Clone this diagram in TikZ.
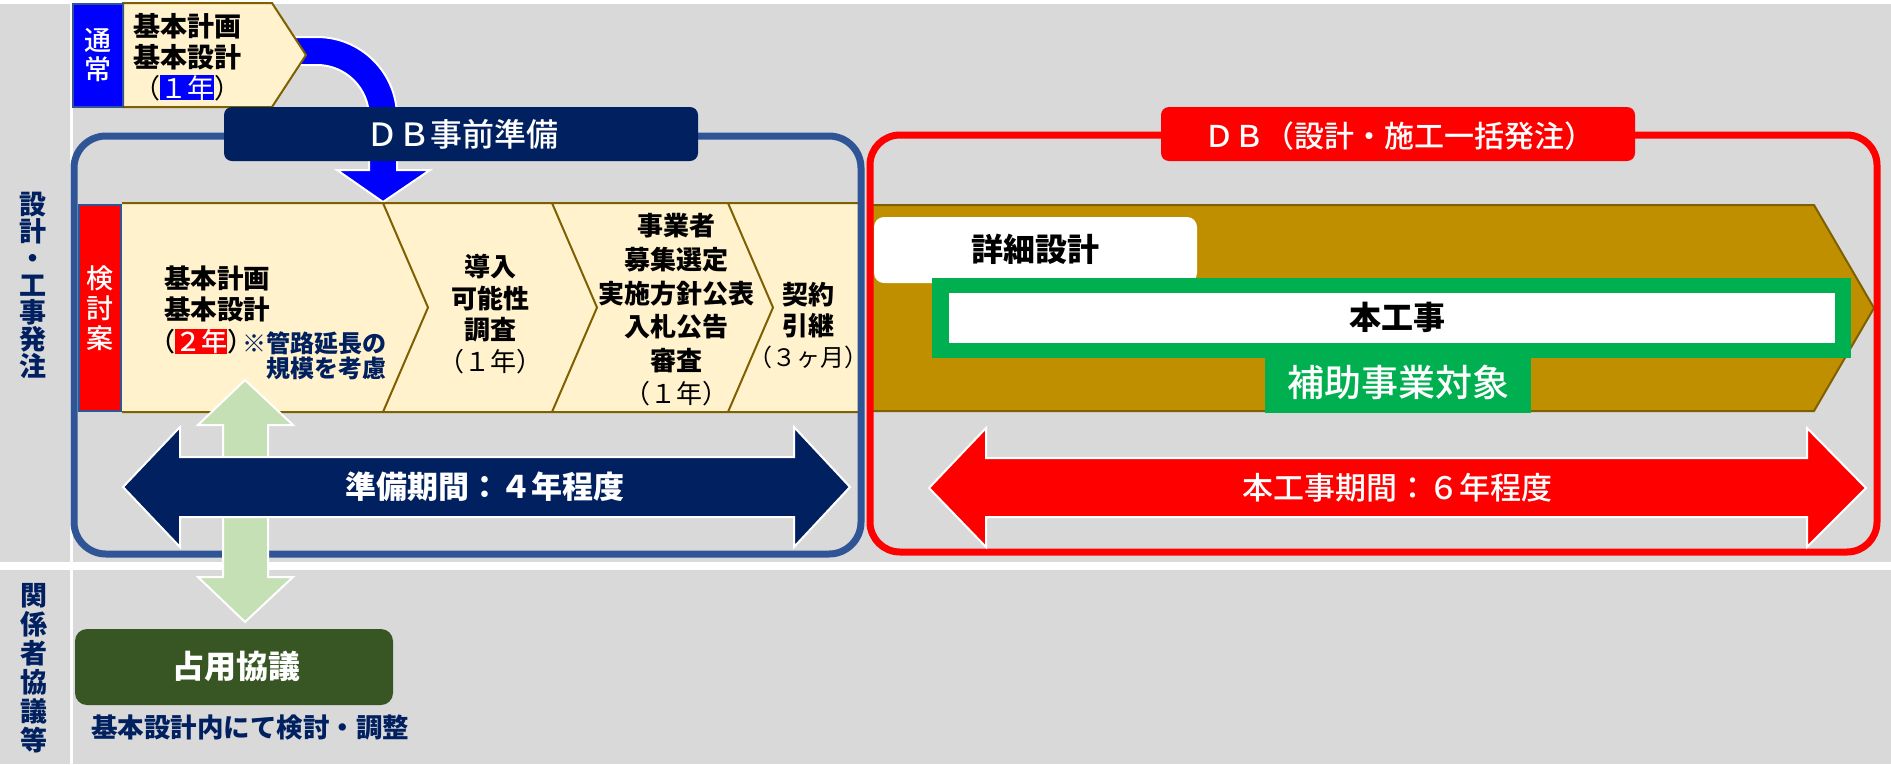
\documentclass[tikz,border=0pt]{standalone}
\usepackage{fontspec}
\newfontfamily\jp{Noto Sans CJK JP}
\newfontfamily\jpm{Noto Sans CJK JP Medium}
\newcommand\jfs[2]{\fontsize{#1}{#2}\selectfont}
\definecolor{bggray}{HTML}{D9D9D9}
\definecolor{navy}{HTML}{002060}
\definecolor{frameblue}{HTML}{2F5597}
\definecolor{beige}{HTML}{FFF2CC}
\definecolor{brownline}{HTML}{7F6000}
\definecolor{gold}{HTML}{BF8F00}
\definecolor{grn}{HTML}{00B050}
\definecolor{lightgrn}{HTML}{C5E0B4}
\definecolor{darkgrn}{HTML}{375623}
\definecolor{pureblue}{HTML}{0000FF}
\definecolor{purered}{HTML}{FF0000}
\begin{document}
\begin{tikzpicture}[x=1pt,y=-1pt,
  jt/.style={font=\jp, inner sep=0pt, align=center},
  outl/.style={draw=white, line width=2pt, line join=miter},
  brd/.style={draw=brownline, line width=2pt},
]
\useasboundingbox (0,0) rectangle (1891,764);
% background and separators
\fill[bggray] (0,0) rectangle (1891,764);
\fill[white] (0,0) rectangle (1891,4);
\fill[white] (70,0) rectangle (73,764);
\fill[white] (0,562) rectangle (1891,570);

% left labels
\node[jt, text=navy, font=\jp\bfseries\jfs{27}{27}] (lab1) at (33,285) {設\\計\\・\\工\\事\\発\\注};
\node[jt, text=navy, font=\jp\bfseries\jfs{27}{29}] (lab2) at (34,668) {関\\係\\者\\協\\議\\等};

% curved blue arrow
\draw[fill=pureblue, outl] (280,37) -- (317,37) .. controls (361.2,37) and (397,72.8) .. (397,117) -- (397,170) -- (430,170) -- (383,202) -- (337,170) -- (369,170) -- (369,117) .. controls (369,88.3) and (345.7,65) .. (317,65) -- (280,65) -- cycle;

% usual plan pentagon
\draw[fill=beige, brd] (123,3) -- (272,3) -- (306,55) -- (272,107) -- (123,107) -- cycle;
\draw[fill=pureblue, draw=frameblue, line width=1.5pt] (73,4) rectangle (123,107);
\node[jt, text=white, font=\jpm\jfs{27}{29}] (tsujo) at (98,55) {通\\常};
\node[jt, font=\jp\bfseries\jfs{27}{31}] (kihon0) at (187,57) {基本計画\\基本設計\\{\mdseries\jp（{\fboxsep0pt\colorbox{pureblue}{\color{white}１年}}）}};

% chevron row
\fill[beige] (122,203) rectangle (858,412);
\draw[brd] (122,203) -- (858,203) (122,412) -- (858,412)
  (383,203) -- (428,307.5) -- (383,412)
  (552,203) -- (597,307.5) -- (552,412)
  (728,203) -- (773,307.5) -- (728,412);
\draw[fill=purered, draw=frameblue, line width=2pt] (79,205) rectangle (121,411);
\node[jt, text=white, font=\jpm\jfs{27}{30}] (kentou) at (100,308) {検\\討\\案};
\node[jt, font=\jp\bfseries\jfs{26.5}{31.5}] (c1a) at (217,294) {基本計画\\基本設計};
\node[jt, font=\jpm\jfs{26}{31}, anchor=west] (c1b) at (149,341.5) {（{\fboxsep0pt\colorbox{purered}{\color{white}２年}}）};
\node[jt, text=navy, font=\jp\bfseries\jfs{24}{25}, align=right, anchor=east] (c1c) at (387,356) {※管路延長の\\規模を考慮};
\node[jt, font=\jp\bfseries\jfs{26}{31.5}] (c2) at (490,314) {導入\\可能性\\調査\\{\mdseries（１年）}};
\node[jt, font=\jp\bfseries\jfs{26}{33.6}] (c3) at (676,310) {事業者\\募集選定\\実施方針公表\\入札公告\\審査\\{\mdseries（１年）}};
\node[jt, font=\jp\bfseries\jfs{26}{31}] (c4) at (808,326) {契約\\引継\\{\mdseries\jfs{24}{31}（３ヶ月）}};

% DB main gold arrow
\draw[fill=gold, brd] (872,205) -- (1814,205) -- (1874,308) -- (1814,411) -- (872,411);
\fill[white, rounded corners=10pt] (874,217) rectangle (1197,283);
\node[jt, font=\jp\bfseries\jfs{32}{32}] (shosai) at (1035,249) {詳細設計};
\fill[grn] (932,278) rectangle (1851,358);
\fill[white] (949,293) rectangle (1835,343);
\node[jt, font=\jp\bfseries\jfs{32}{32}] (honkoji) at (1397,317) {本工事};
\fill[grn] (1265,356) rectangle (1531,413);
\node[jt, text=white, font=\jpm\jfs{37}{37}] (hojo) at (1398,382) {補助事業対象};

% frames
\draw[frameblue, line width=7pt, rounded corners=32pt] (74,136) rectangle (861,554);
\draw[purered, line width=7pt, rounded corners=30pt] (870,135) rectangle (1877,552);

% title labels
\fill[navy, rounded corners=8pt] (224,107) rectangle (698,161);
\node[jt, text=white, font=\jpm\jfs{32}{32}] (dbpre) at (462,134) {ＤＢ事前準備};
\fill[purered, rounded corners=8pt] (1161,107) rectangle (1635,161);
\node[jt, text=white, font=\jpm\jfs{30}{30}] (dbmain) at (1399,136) {ＤＢ（設計・施工一括発注）};

% light green vertical double arrow
\draw[fill=lightgrn, outl] (245,380) -- (293,425) -- (268,425) -- (268,577) -- (293,577) -- (245,622) -- (198,577) -- (223,577) -- (223,425) -- (198,425) -- cycle;

% navy double arrow
\draw[fill=navy, outl] (123,487) -- (180,427) -- (180,457) -- (794,457) -- (794,427) -- (850,487) -- (794,547) -- (794,517) -- (180,517) -- (180,547) -- cycle;
\node[jt, text=white, font=\jp\bfseries\jfs{31}{31}] (junbi) at (485,487) {準備期間：４年程度};

% red double arrow
\draw[fill=purered, outl] (929,488) -- (986,428) -- (986,458) -- (1807,458) -- (1807,428) -- (1866,488) -- (1807,547) -- (1807,517) -- (986,517) -- (986,547) -- cycle;
\node[jt, text=white, font=\jpm\jfs{31}{31}] (honki) at (1397,488) {本工事期間：６年程度};

% stakeholder consultation
\fill[darkgrn, rounded corners=12pt] (75,629) rectangle (393,705);
\node[jt, text=white, font=\jp\bfseries\jfs{32}{32}] (senyo) at (236,666) {占用協議};
\node[jt, text=navy, font=\jp\bfseries\jfs{26.5}{26.5}] (kyogi) at (250,727) {基本設計内にて検討・調整};
\end{tikzpicture}
\end{document}
